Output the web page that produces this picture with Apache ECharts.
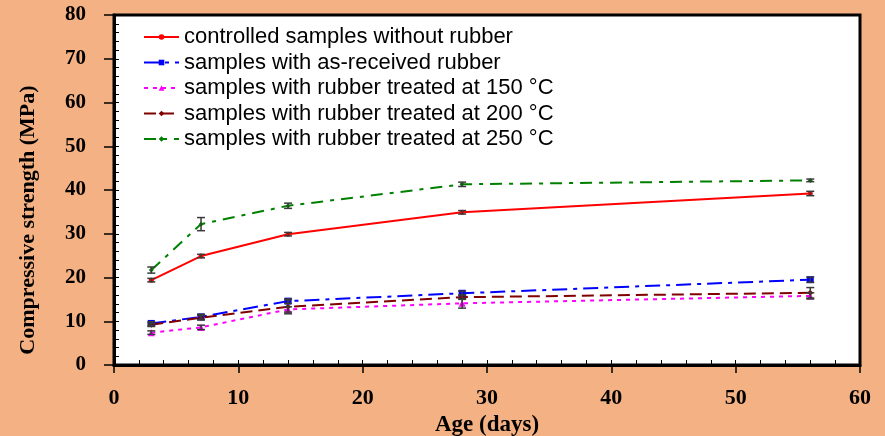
<!DOCTYPE html>
<html><head><meta charset="utf-8">
<script src="https://cdn.jsdelivr.net/npm/echarts@6/dist/echarts.min.js"></script>
<style>html,body{margin:0;padding:0;background:#F4B183;}#c{width:885px;height:436px;}</style>
</head><body><div id="c"></div>
<script>
const days = [3, 7, 14, 28, 56];
const seriesNames = [
  'controlled samples without rubber',
  'samples with as-received rubber',
  'samples with rubber treated at 150 °C',
  'samples with rubber treated at 200 °C',
  'samples with rubber treated at 250 °C'
];
const controlled = [19.4, 24.9, 29.9, 34.9, 39.2];
const asReceived = [9.5, 11.0, 14.6, 16.4, 19.5];
const treated150 = [7.4, 8.6, 12.7, 14.1, 15.8];
const treated200 = [9.2, 10.8, 13.3, 15.5, 16.5];
const treated250 = [21.7, 32.2, 36.4, 41.3, 42.2];
const errControlled = [0.4, 0.4, 0.4, 0.4, 0.5];
const errAsReceived = [0.4, 0.6, 0.5, 0.5, 0.6];
const err150 = [0.4, 0.5, 0.6, 1.1, 0.7];
const err200 = [0.4, 0.5, 1.6, 0.5, 1.2];
const err250 = [0.7, 1.5, 0.6, 0.5, 0.3];

const values = [controlled, asReceived, treated150, treated200, treated250];
const errors = [errControlled, errAsReceived, err150, err200, err250];
const colors = ['#FF0000', '#0000FF', '#FF00FF', '#800000', '#008000'];
const dashes = ['solid', [15, 6, 4, 6], [4, 5], [12, 6], [12, 7, 4, 7]];
const symbols = ['circle', 'rect', 'triangle', 'diamond', 'diamond'];
const symbolSizes = [5, 7, 7, 6, 5];

const chart = echarts.init(document.getElementById('c'));
const series = [];
values.forEach((v, i) => {
  series.push({
    name: seriesNames[i], type: 'line', xAxisIndex: 0, yAxisIndex: 0,
    data: days.map((d, j) => [d, v[j]]),
    symbol: symbols[i], symbolSize: symbolSizes[i], showSymbol: true,
    itemStyle: { color: colors[i] },
    lineStyle: { color: colors[i], width: 2, type: dashes[i] },
    z: 3
  });
});
values.forEach((v, i) => {
  series.push({
    type: 'custom', xAxisIndex: 0, yAxisIndex: 0, silent: true, z: 4,
    data: days.map((d, j) => [d, v[j] - errors[i][j], v[j] + errors[i][j]]),
    renderItem: function (params, api) {
      const p1 = api.coord([api.value(0), api.value(1)]);
      const p2 = api.coord([api.value(0), api.value(2)]);
      const w = 4;
      const st = { stroke: '#3a3a3a', lineWidth: 1.5 };
      return { type: 'group', children: [
        { type: 'line', shape: { x1: p1[0], y1: p1[1], x2: p2[0], y2: p2[1] }, style: st },
        { type: 'line', shape: { x1: p1[0] - w, y1: p1[1], x2: p1[0] + w, y2: p1[1] }, style: st },
        { type: 'line', shape: { x1: p2[0] - w, y1: p2[1], x2: p2[0] + w, y2: p2[1] }, style: st }
      ]};
    }
  });
});

const serif = 'Liberation Serif';
chart.setOption({
  backgroundColor: '#F4B183',
  animation: false,
  grid: { left: 114, top: 15, right: 25, bottom: 71, containLabel: false, outerBoundsMode: 'none',
          show: true, backgroundColor: '#fff', borderColor: '#000', borderWidth: 3 },
  legend: {
    orient: 'vertical', left: 138, top: 21, itemWidth: 35, itemHeight: 7, itemGap: 3.5,
    data: seriesNames,
    textStyle: { fontFamily: 'Liberation Sans', fontSize: 22, lineHeight: 20, color: '#000' }
  },
  xAxis: [{
    type: 'value', min: 0, max: 60, interval: 10,
    name: 'Age (days)', nameLocation: 'middle', nameGap: 40,
    nameTextStyle: { fontFamily: serif, fontWeight: 'bold', fontSize: 23, color: '#000' },
    axisLine: { lineStyle: { color: '#000', width: 3 } },
    axisTick: { show: true, length: 8, lineStyle: { color: '#000', width: 1.5 } },
    axisLabel: { margin: 22, fontFamily: serif, fontWeight: 'bold', fontSize: 22, color: '#000' },
    splitLine: { show: false }
  }, {
    type: 'value', min: 0, max: 60, interval: 2, position: 'bottom',
    axisLine: { show: false }, axisLabel: { show: false }, splitLine: { show: false },
    axisTick: { show: true, inside: true, length: 5, lineStyle: { color: '#000', width: 1 } }
  }],
  yAxis: [{
    type: 'value', min: 0, max: 80, interval: 10,
    name: 'Compressive strength (MPa)', nameLocation: 'middle', nameGap: 75,
    nameTextStyle: { fontFamily: serif, fontWeight: 'bold', fontSize: 22, color: '#000', padding: [0, 60, 0, 0] },
    axisLine: { show: true, lineStyle: { color: '#000', width: 3 } },
    axisTick: { show: true, length: 10, lineStyle: { color: '#000', width: 1.5 } },
    axisLabel: { margin: 28, fontFamily: serif, fontWeight: 'bold', fontSize: 21, color: '#000' },
    splitLine: { show: false }
  }, {
    type: 'value', min: 0, max: 80, interval: 2, position: 'left',
    axisLine: { show: false }, axisLabel: { show: false }, splitLine: { show: false },
    axisTick: { show: true, inside: true, length: 5, lineStyle: { color: '#000', width: 1 } }
  }],
  series: series
});
</script></body></html>
